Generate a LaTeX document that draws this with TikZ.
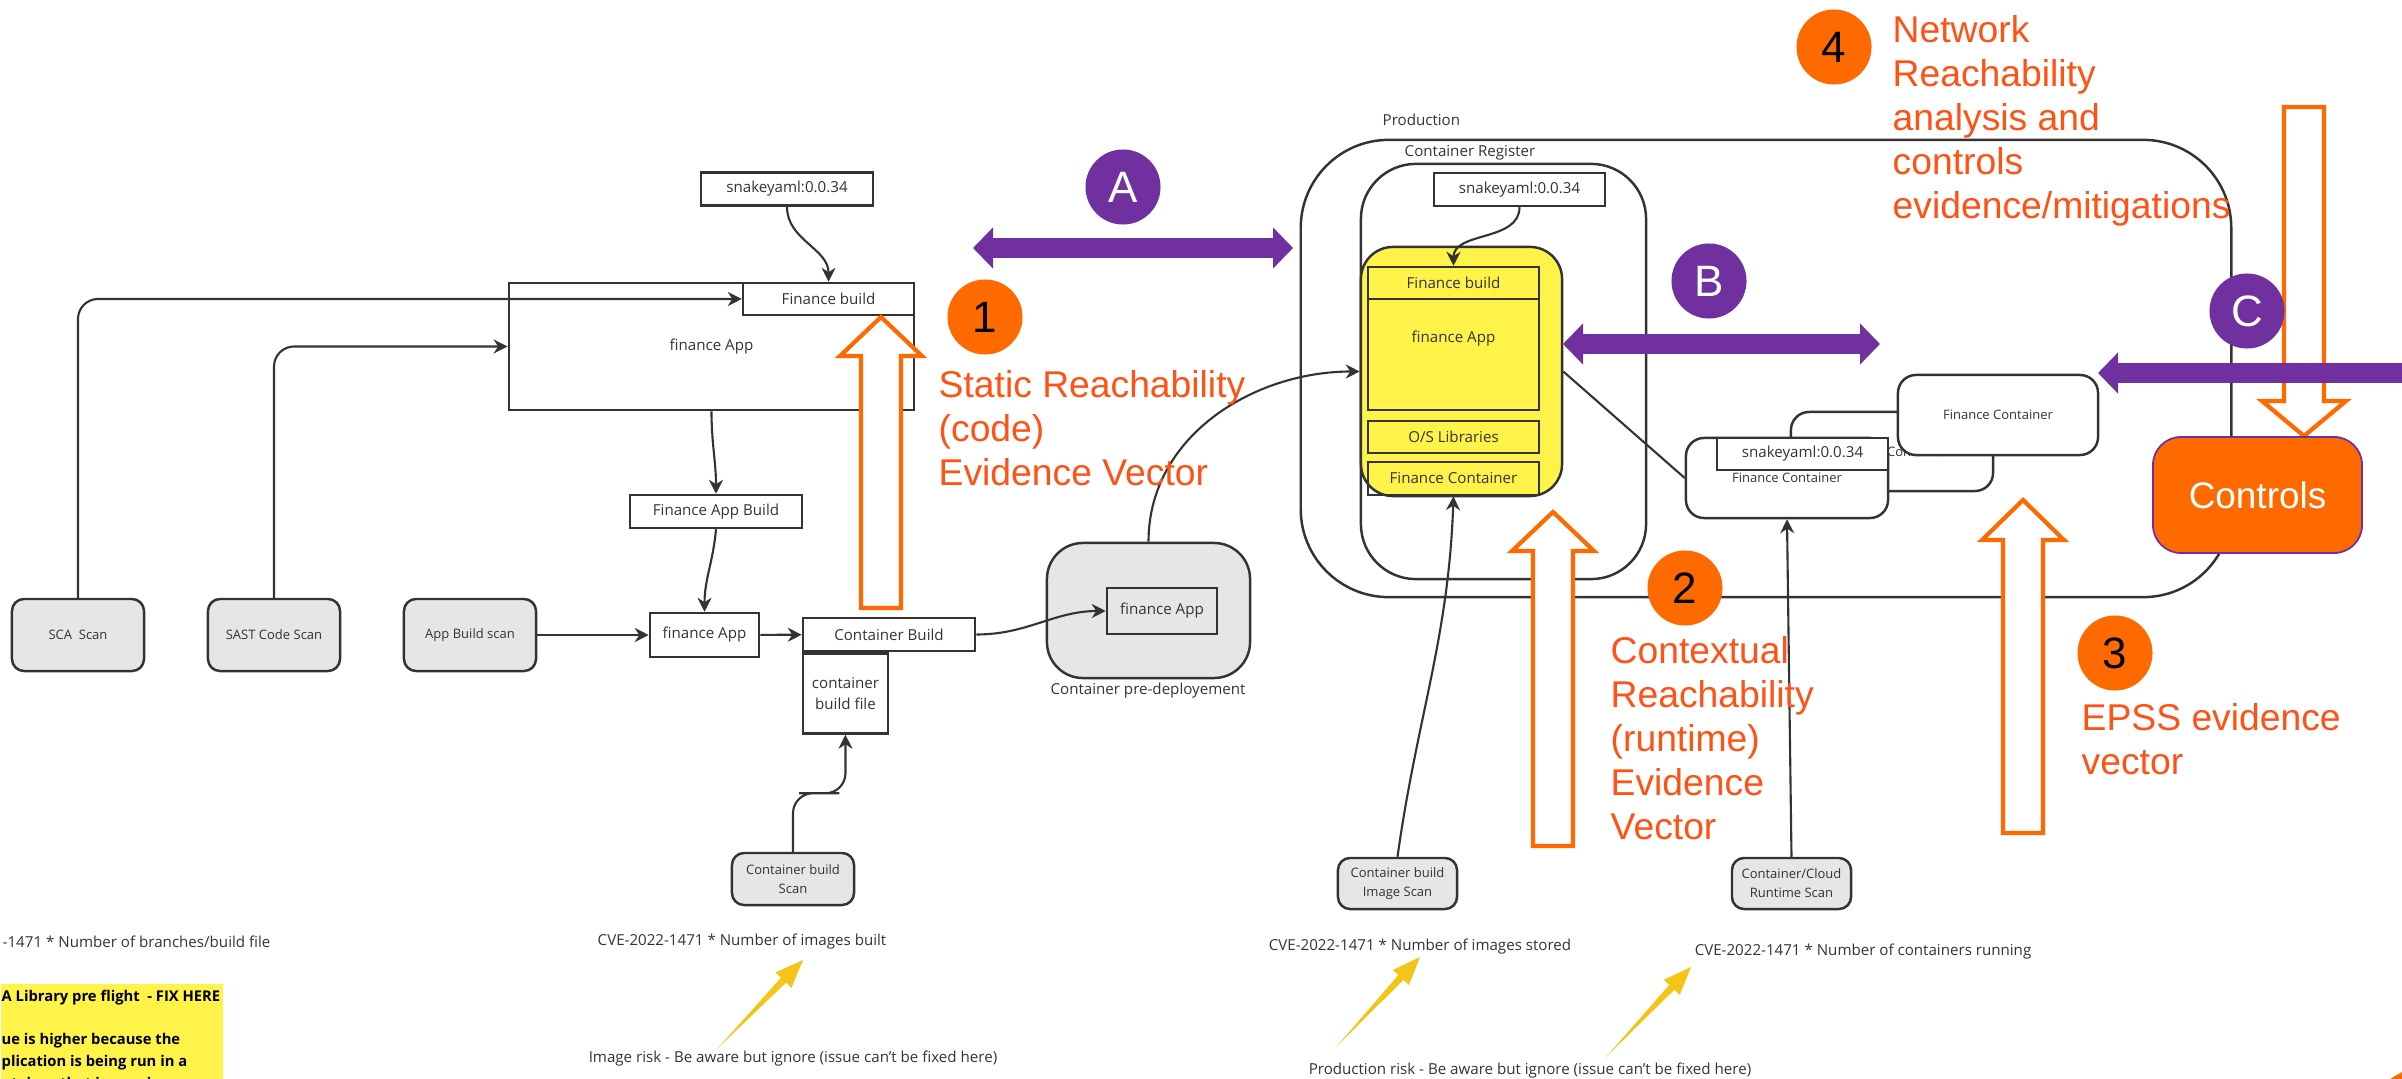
\documentclass[tikz,border=0pt]{standalone}
\usepackage{fontspec}
\setmainfont{Open Sans}
\newfontfamily\arialfam{Liberation Sans}
\usetikzlibrary{arrows.meta,positioning,calc}
\definecolor{LineDark}{RGB}{51,51,51}
\definecolor{ScanGray}{RGB}{230,230,230}
\definecolor{BoxYellow}{RGB}{255,242,72}
\definecolor{EvOrange}{RGB}{255,106,0}
\definecolor{EvText}{RGB}{255,82,20}
\definecolor{LinkPurple}{RGB}{112,48,160}
\definecolor{RiskGold}{RGB}{245,196,24}
\newcommand\bodyfnt{\fontsize{4.3}{6}\selectfont}
\newcommand\scanfnt{\fontsize{3.7}{5.4}\selectfont}
\newcommand\notefnt{\bfseries\fontsize{4.2}{6.2}\selectfont}
\newcommand\evfnt{\arialfam\fontsize{10.6}{12.5}\selectfont}
\newcommand\dotfnt{\arialfam\fontsize{12.5}{12.5}\selectfont}
\tikzset{
  box/.style      ={rectangle, draw=LineDark, line width=.7pt, fill=white, text=LineDark,
                    align=center, font=\bodyfnt, inner sep=0pt},
  scanbox/.style  ={box, rounded corners=1.2mm, fill=ScanGray, font=\scanfnt,
                    minimum width=1.32cm, minimum height=.72cm},
  grp/.style      ={rectangle, draw=LineDark, line width=.7pt, inner sep=0pt},
  caption/.style  ={inner sep=0pt, text=LineDark, font=\bodyfnt},
  conn/.style     ={-{Stealth[length=1.4mm,width=1.4mm]}, draw=LineDark, line width=.6pt},
  plain/.style    ={draw=LineDark, line width=.6pt},
  hollow/.style   ={draw=EvOrange, line width=1.2pt, fill=white},
  numdot/.style   ={circle, fill=EvOrange, minimum size=7.5mm, inner sep=0pt, font=\dotfnt, text=black},
  letdot/.style   ={numdot, fill=LinkPurple, text=white},
  evtext/.style   ={anchor=north west, align=left, inner sep=0pt, text=EvText, font=\evfnt},
  link/.style     ={{Triangle[length=2mm,width=4mm]}-{Triangle[length=2mm,width=4mm]},
                    draw=LinkPurple, line width=2mm},
}

\begin{document}
\begin{tikzpicture}[x=0.01cm,y=0.01cm]
  \useasboundingbox (0,0) rectangle (2402,-1079);
  \clip (0,0) rectangle (2402,-1079);

  \node[box,minimum width=4.05cm,minimum height=1.27cm] (app1) at (711.5,-346.5) {finance App};
  \node[box,minimum width=1.71cm,minimum height=.32cm,anchor=north east] (build1) at (app1.north east) {Finance build};
  \node[box,minimum width=1.72cm,minimum height=.33cm] (yaml1) at (787,-189) {snakeyaml:0.0.34};
  \node[box,minimum width=1.72cm,minimum height=.33cm] (appbuild) at (716,-511.5) {Finance App Build};
  \node[box,minimum width=1.09cm,minimum height=.44cm] (app2) at (704.5,-635) {finance App};
  \node[scanbox] (sca) at (78,-635) {SCA\ \ Scan};
  \node[scanbox] (sast) at (274,-635) {SAST Code Scan};
  \node[scanbox] (appscan) at (470,-635) {App Build scan};
  \node[box,minimum width=1.72cm,minimum height=.33cm] (cbuild) at (889,-634.5) {Container Build};
  \node[box,minimum width=.85cm,minimum height=.8cm,anchor=north west] (cfile) at (cbuild.south west) {container\\build file};
  \node[scanbox,minimum width=1.22cm,minimum height=.52cm] (cbscan) at (793,-879) {Container build\\Scan};
  \node[box,fill=ScanGray,rounded corners=3.6mm,minimum width=2.03cm,minimum height=1.35cm] (predep) at (1148.5,-610.5) {};
  \node[box,fill=ScanGray,minimum width=1.1cm,minimum height=.46cm] (pdapp) at (1162,-611) {finance App};
  \node[caption] (pdlbl) at (1148,-691) {Container pre-deployement};

  \node[grp,rounded corners=8.8mm,minimum width=9.3cm,minimum height=4.57cm] (prod) at (1766,-368.5) {};
  \node[caption,anchor=west] (prodlbl) at (1382,-120) {Production};
  \node[grp,rounded corners=5.5mm,minimum width=2.85cm,minimum height=4.15cm] (creg) at (1503.5,-371.5) {};
  \node[caption,anchor=west] (creglbl) at (1404,-153) {Container Register};
  \node[grp,fill=BoxYellow,rounded corners=3.2mm,minimum width=2.01cm,minimum height=2.49cm] (yellow) at (1461.5,-371.5) {};
  \node[box,fill=none,minimum width=1.71cm,minimum height=.32cm] (build2) at (1453.5,-283) {Finance build};
  \node[box,fill=none,minimum width=1.71cm,minimum height=1.11cm] (app3) at (1453.5,-354.5) {};
  \node[caption] (app3lbl) at (1453.5,-339) {finance App};
  \node[box,fill=none,minimum width=1.71cm,minimum height=.32cm] (oslib) at (1453.5,-437) {O/S Libraries};
  \node[box,fill=none,minimum width=1.71cm,minimum height=.33cm] (cont2) at (1453.5,-478.5) {Finance Container};
  \node[box,minimum width=1.71cm,minimum height=.33cm] (yaml2) at (1519.5,-189.5) {snakeyaml:0.0.34};

  \node[box,rounded corners=1.8mm,minimum width=2.02cm,minimum height=.79cm,font=\scanfnt] (fc2) at (1892,-451.5) {Finance Container};
  \node[box,rounded corners=1.8mm,minimum width=2.02cm,minimum height=.8cm,font=\scanfnt] (fc1) at (1787,-478) {Finance Container};
  \node[box,minimum width=1.71cm,minimum height=.32cm,anchor=north east] (yaml3) at (fc1.north east) {snakeyaml:0.0.34};
  \node[box,rounded corners=1.8mm,minimum width=2cm,minimum height=.8cm,font=\scanfnt] (fc3) at (1998,-415) {Finance Container};

  \node[scanbox,minimum width=1.19cm,minimum height=.51cm] (imgscan) at (1397.5,-883.5) {Container build\\Image Scan};
  \node[scanbox,minimum width=1.19cm,minimum height=.51cm] (rtscan) at (1791.5,-883.5) {Container/Cloud\\Runtime Scan};

  \draw[conn] (yaml1.south) to[out=-90,in=90] (build1.north);
  \draw[conn,rounded corners=2mm] (sca.north) |- (build1.west);
  \draw[conn,rounded corners=2mm] (sast.north) |- (app1.west);
  \draw[conn] (app1.south) to[out=-90,in=90] (appbuild.north);
  \draw[conn] (appbuild.south) to[out=-95,in=90] (app2.north);
  \draw[conn] (appscan) -- (app2);
  \draw[conn] (app2) -- (cbuild);
  \draw[conn,rounded corners=2mm] (cbscan.north) |- ($(cbscan.north)!.5!(cfile.south)$) -| (cfile.south);
  \draw[conn] (cbuild.east) to[out=0,in=180] (pdapp.west);
  \draw[conn] (predep.north) to[out=90,in=180] (yellow.west);
  \draw[conn] (yaml2.south) to[out=-90,in=90] (build2.north);
  \draw[conn] (imgscan.north) to[out=82,in=-92] (cont2.south);
  \draw[plain] (yellow.east) -- (fc1.west);
  \draw[conn] (rtscan.north) -- (fc1.south);

  \node[numdot] (n1) at (985,-317) {1};
  \node[evtext] (ev1) at (938,-370) {Static Reachability\\(code)\\Evidence Vector};
  \node[numdot] (n2) at (1685,-588) {2};
  \node[evtext] (ev2) at (1610,-636) {Contextual\\Reachability\\(runtime)\\Evidence\\Vector};
  \node[numdot] (n3) at (2115,-653) {3};
  \node[evtext] (ev3) at (2081,-703) {EPSS evidence\\vector};
  \node[numdot] (n4) at (1834,-47) {4};
  \node[evtext] (ev4) at (1892,-15) {Network\\Reachability\\analysis and\\controls\\evidence/mitigations};

  \foreach \cx/\tip/\base/\tail in {881/317/356/608, 1553/512/551/846, 2023/500/540/833}
    \draw[hollow] (\cx-20,-\tail) -- (\cx-20,-\base) -- (\cx-41,-\base) -- (\cx,-\tip)
                  -- (\cx+41,-\base) -- (\cx+20,-\base) -- (\cx+20,-\tail) -- cycle;
  \draw[hollow] (2284,-107) -- (2284,-401) -- (2262,-401) -- (2304,-436) -- (2346,-401) -- (2324,-401) -- (2324,-107) -- cycle;

  \coordinate (a1) at (973,-248); \coordinate (a2) at (1293,-248);
  \coordinate (b1) at (1563,-344); \coordinate (b2) at (1880,-344);
  \coordinate (c1) at (2098,-373); \coordinate (c2) at (2425,-373);
  \draw[link] (a1) -- (a2);
  \draw[link] (b1) -- (b2);
  \draw[link] (c1) -- (c2);
  \node[letdot] (dA) at (1123,-187) {A};
  \node[letdot] (dB) at (1709,-281) {B};
  \node[letdot] (dC) at (2247,-311) {C};

  \node[rectangle,rounded corners=2.8mm,fill=EvOrange,draw=LinkPurple,line width=.5pt,
        minimum width=2.09cm,minimum height=1.16cm,text=white,
        font=\arialfam\fontsize{10.5}{12}\selectfont] (ctrl) at (2257.5,-495) {Controls};

  \node[caption,anchor=west] (cvebranch) at (2,-942) {-1471 * Number of branches/build file};
  \node[caption] (cvebuilt) at (742,-942) {CVE-2022-1471 * Number of images built};
  \node[caption] (imgrisk) at (793,-1059) {Image risk - Be aware but ignore (issue can't be fixed here)};
  \node[caption] (cvestored) at (1420,-947) {CVE-2022-1471 * Number of images stored};
  \node[caption] (cverun) at (1863,-952) {CVE-2022-1471 * Number of containers running};
  \node[caption] (prodrisk) at (1530,-1071) {Production risk - Be aware but ignore (issue can't be fixed here)};

  \node[fill=BoxYellow,anchor=north west,minimum width=2.22cm,minimum height=1.1cm,inner sep=0pt] (notebg) at (0,-983) {};
  \node[anchor=north west,align=left,inner sep=0pt,text=black,font=\notefnt] (notetxt) at (1,-989)
       {A Library pre flight\ \ - FIX HERE\\[6.2pt]ue is higher because the\\plication is being run in a\\ntainer that is running};

  \foreach \tx/\ty/\hx/\hy in {717/1049/803/960, 1337/1046/1420/957, 1606/1057/1691/967}{
    \coordinate (gt) at (\tx,-\ty); \coordinate (gh) at (\hx,-\hy);
    \coordinate (gb) at ($(gh)!.28cm!(gt)$);
    \fill[RiskGold] (gt) -- ($(gb)!.035cm!90:(gh)$) -- ($(gb)!.11cm!90:(gh)$) -- (gh)
                    -- ($(gb)!.11cm!-90:(gh)$) -- ($(gb)!.035cm!-90:(gh)$) -- cycle;
  }
  \fill[EvOrange] (2390,-1079) -- (2402,-1072) -- (2402,-1079) -- cycle;
\end{tikzpicture}
\end{document}
